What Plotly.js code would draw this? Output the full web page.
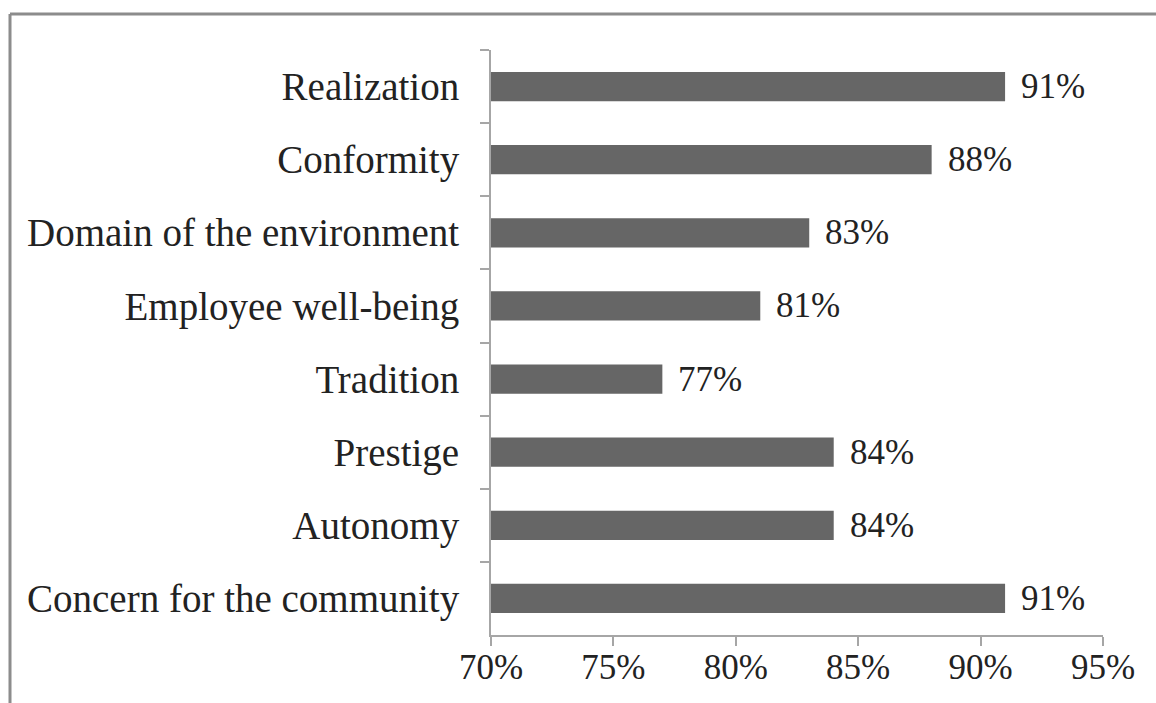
<!DOCTYPE html>
<html>
<head>
<meta charset="utf-8">
<script src="https://cdn.plot.ly/plotly-3.0.1.min.js"></script>
<style>html,body{margin:0;padding:0;background:#fff;}#chart{width:1156px;height:703px;}</style>
</head>
<body>
<div id="chart"></div>
<script>
const categories = ["Realization", "Conformity", "Domain of the environment", "Employee well-being", "Tradition", "Prestige", "Autonomy", "Concern for the community"];
const values = [0.91, 0.88, 0.83, 0.81, 0.77, 0.84, 0.84, 0.91];
const xTickValues = [0.70, 0.75, 0.80, 0.85, 0.90, 0.95];

const fontFamily = 'Liberation Serif';

const trace = {
  type: 'bar',
  orientation: 'h',
  y: categories,
  x: values,
  marker: {color: '#666666', line: {width: 0}},
  width: 0.4,
  hoverinfo: 'none'
};

const annotations = categories.map((c, i) => ({
  x: values[i], y: c, xref: 'x', yref: 'y',
  text: Math.round(values[i] * 100) + '%',
  showarrow: false, xanchor: 'left', yanchor: 'middle', xshift: 14,
  font: {family: fontFamily, size: 35, color: '#222'}
}));

const W = 612, H = 585;
const layout = {
  width: 1156, height: 703,
  margin: {l: 491, r: 53, t: 50, b: 68},
  paper_bgcolor: '#fff', plot_bgcolor: '#fff',
  showlegend: false,
  font: {family: fontFamily, color: '#222'},
  xaxis: {
    range: [0.70, 0.95],
    tickvals: xTickValues,
    tickformat: '.0%',
    showgrid: false, zeroline: false,
    showline: true, linecolor: '#a6a6a6', linewidth: 2,
    ticks: 'outside', ticklen: 9, tickwidth: 2, tickcolor: '#a6a6a6',
    ticklabelstandoff: -9,
    tickfont: {family: fontFamily, size: 35, color: '#222'},
    fixedrange: true
  },
  yaxis: {
    type: 'category',
    autorange: 'reversed',
    tickson: 'boundaries',
    showgrid: false, zeroline: false,
    showline: true, linecolor: '#a6a6a6', linewidth: 2,
    ticks: 'outside', ticklen: 9, tickwidth: 2, tickcolor: '#a6a6a6',
    ticklabelstandoff: 22,
    tickfont: {family: fontFamily, size: 39, color: '#222'},
    fixedrange: true
  },
  annotations: annotations,
  shapes: [
    {type: 'line', xref: 'paper', yref: 'paper', x0: -481 / W, x1: 1.2, y0: 1 + 36 / H, y1: 1 + 36 / H, line: {color: '#8c8c8c', width: 3}},
    {type: 'line', xref: 'paper', yref: 'paper', x0: -481 / W, x1: -481 / W, y0: 1 + 36 / H, y1: -0.2, line: {color: '#8c8c8c', width: 3}}
  ]
};

Plotly.newPlot('chart', [trace], layout, {displayModeBar: false, staticPlot: true});
</script>
</body>
</html>
